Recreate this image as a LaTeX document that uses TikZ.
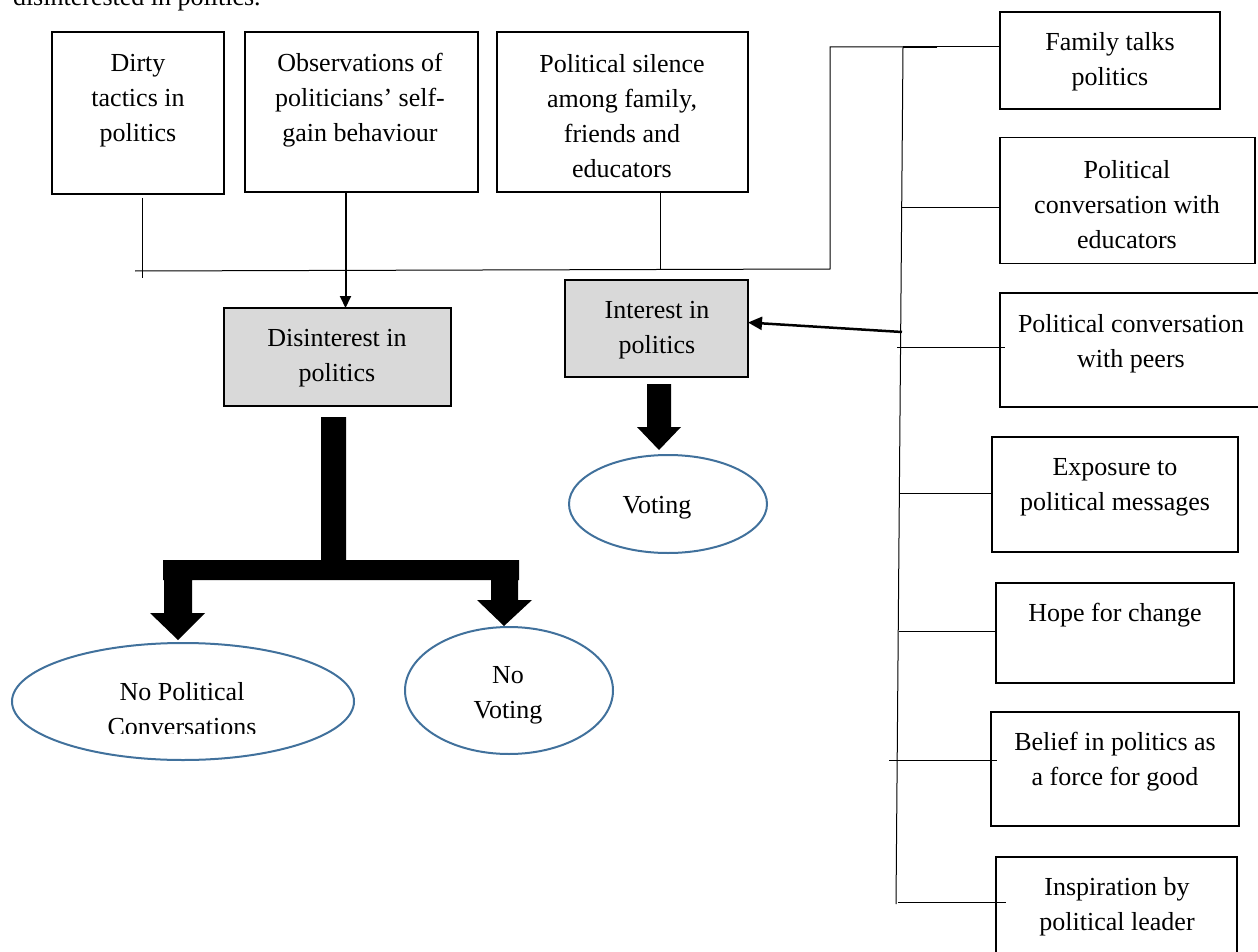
\documentclass[tikz,border=0pt]{standalone}
\usepackage{fontspec}
\setmainfont{Liberation Serif}
\usetikzlibrary{arrows.meta,calc,shapes.geometric}
\definecolor{boxgray}{HTML}{D9D9D9}
\definecolor{ellblue}{HTML}{41719C}
\begin{document}
\begin{tikzpicture}[x=1pt,y=-1pt,
  every node/.style={font=\fontsize{26}{35}\selectfont, inner sep=0pt, outer sep=0pt},
  box/.style={draw, line width=1.6pt, rectangle},
  greybox/.style={box, fill=boxgray},
  txt/.style={align=center},
  oval/.style={draw=ellblue, line width=2pt, ellipse},
  thinline/.style={line width=1pt},
  blockarrow/.style={fill=black}]
\useasboundingbox (0,0) rectangle (1258,952);
\clip (0,0) rectangle (1258,952);

% clipped heading text
\node[anchor=base west] (head) at (13,6) {disinterested in politics.};

% top boxes
\node[box, minimum width=172pt, minimum height=162pt] (dirty) at (138,113) {};
\node[txt] (dirtyt) at (138,100.5) {Dirty\\tactics in\\politics};
\node[box, minimum width=233pt, minimum height=160pt] (obs) at (361.5,112) {};
\node[txt] (obst) at (360,100.5) {Observations of\\politicians’ self-\\gain behaviour};
\node[box, minimum width=251pt, minimum height=160pt] (silence) at (622.5,112) {};
\node[txt] (silencet) at (622,116.5) {Political silence\\among family,\\friends and\\educators};

% grey boxes
\node[greybox, minimum width=227pt, minimum height=98pt] (dis) at (337.5,357) {};
\node[txt] (dist) at (337,358.5) {Disinterest in\\politics};
\node[greybox, minimum width=183pt, minimum height=97pt] (int) at (656.5,328.5) {};
\node[txt] (intt) at (657,330) {Interest in\\politics};

% right column
\node[box, minimum width=220pt, minimum height=97pt] (family) at (1110,60.5) {};
\node[txt] (familyt) at (1110,62) {Family talks\\politics};
\node[box, minimum width=255pt, minimum height=126pt] (educ) at (1127.5,200.5) {};
\node[txt] (educt) at (1127,204.5) {Political\\conversation with\\educators};
\node[box, minimum width=260pt, minimum height=114pt] (peers) at (1130,350) {};
\node[txt] (peerst) at (1131,343.5) {Political conversation\\with peers};
\node[box, minimum width=246pt, minimum height=115pt] (expo) at (1115,494.5) {};
\node[txt] (expot) at (1115,487.5) {Exposure to\\political messages};
\node[box, minimum width=238pt, minimum height=100pt] (hope) at (1115,633) {};
\node[txt] (hopet) at (1115,615) {Hope for change};
\node[box, minimum width=248pt, minimum height=114pt] (belief) at (1115,769) {};
\node[txt] (belieft) at (1115,761.5) {Belief in politics as\\a force for good};
\node[box, minimum width=241pt, minimum height=124pt] (inspire) at (1116.5,919) {};
\node[txt] (inspiret) at (1117,907) {Inspiration by\\political leader};

% ellipses
\node[oval, minimum width=198pt, minimum height=98pt] (voting) at (668,504) {};
\node (votingt) at (657,508) {Voting};
\node[oval, minimum width=342pt, minimum height=117pt] (nopol) at (183,701.5) {};
\begin{scope}
  \clip (20,640) rectangle (350,733);
  \node[txt] (nopolt) at (182,709.5) {No Political\\Conversations};
\end{scope}
\node[oval, minimum width=208pt, minimum height=127pt] (novote) at (509,690.5) {};
\node[txt] (novotet) at (508,695) {No\\Voting};

% left connector network
\coordinate (hL) at (135,271);
\coordinate (hR) at (830,269);
\coordinate (hT) at (830,47);
\coordinate (sTop) at (903,47);
\coordinate (sBot) at (896,904);
\coordinate (topEnd) at (937,47);
\draw[thinline] ([xshift=4pt,yshift=-4pt]dirty.south) -- ++(0,80);
\draw[thinline] ([xshift=38pt]silence.south) -- ++(0,78);
\draw[thinline] (hL) -- (hR) -- (hT) -- (topEnd);
\draw[line width=1.5pt] (sTop) -- (topEnd);
\draw[thinline] (sTop) -- (sBot);
\draw[thinline] (sTop) -- (sTop -| family.west);

% branches
\coordinate (b1) at (901,208);
\coordinate (b2) at (897,347);
\coordinate (b3) at (899,493);
\coordinate (b4) at (899,631);
\coordinate (b5) at (889,760);
\coordinate (b6) at (898,902);
\draw[thinline] (b1) -- (b1 -| educ.west);
\draw[thinline] (b2) -- ([xshift=5pt]b2 -| peers.west);
\draw[thinline] (b3) -- (b3 -| expo.west);
\draw[thinline] (b4) -- (b4 -| hope.west);
\draw[thinline] (b5) -- ([xshift=6pt]b5 -| belief.west);
\draw[thinline] (b6) -- ([xshift=10pt]b6 -| inspire.west);

% arrows
\coordinate (ia) at (902,332);
\draw[line width=2.5pt, -{Triangle[length=14pt,width=13pt]}] (ia) -- ([yshift=6pt]int.east);
\draw[line width=2pt, -{Triangle[length=12pt,width=11pt]}] ([xshift=-16pt]obs.south) -- ([xshift=8pt]dis.north);

% block arrows
\fill[blockarrow] (647,384) -- (671,384) -- (671,427) -- (681,427) -- (659,450) -- (637,427) -- (647,427) -- cycle;
\fill[blockarrow] (321,417) -- (346,417) -- (346,560) -- (519,560) -- (519,580) -- (518,580) -- (518,600) -- (532,600) -- (504,626) -- (477,600) -- (491,600) -- (491,580) -- (192,580) -- (192,613) -- (205,613) -- (178,640) -- (150,613) -- (164,613) -- (164,580) -- (163,580) -- (163,560) -- (321,560) -- cycle;
\end{tikzpicture}
\end{document}
